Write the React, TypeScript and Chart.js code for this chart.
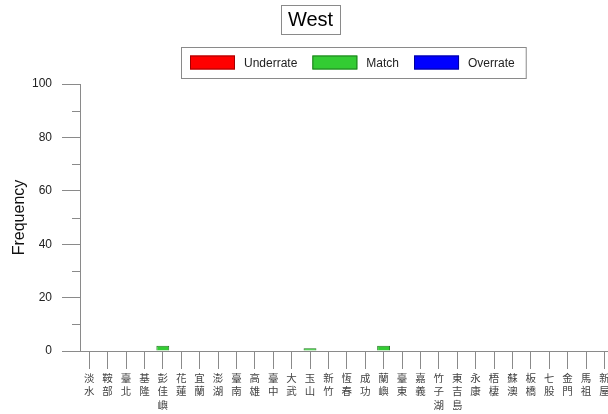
import React, { useEffect, useRef } from "react";
import { Chart, registerables } from "chart.js";

Chart.register(...registerables);

const titleText = "West";
const yAxisTitle = "Frequency";

const stations = [
  "淡水", "鞍部", "臺北", "基隆", "彭佳嶼", "花蓮", "宜蘭", "澎湖", "臺南", "高雄",
  "臺中", "大武", "玉山", "新竹", "恆春", "成功", "蘭嶼", "臺東", "嘉義", "竹子湖",
  "東吉島", "永康", "梧棲", "蘇澳", "板橋", "七股", "金門", "馬祖", "新屋",
];

const underrate = [0, 0, 0, 0, 0, 0, 0, 0, 0, 0, 0, 0, 0, 0, 0, 0, 0, 0, 0, 0, 0, 0, 0, 0, 0, 0, 0, 0, 0];
const match = [0, 0, 0, 0, 2, 0, 0, 0, 0, 0, 0, 0, 1, 0, 0, 0, 2, 0, 0, 0, 0, 0, 0, 0, 0, 0, 0, 0, 0];
const overrate = [0, 0, 0, 0, 0, 0, 0, 0, 0, 0, 0, 0, 0, 0, 0, 0, 0, 0, 0, 0, 0, 0, 0, 0, 0, 0, 0, 0, 0];

const yMin = 0;
const yMax = 100;
const yMajorStep = 20;
const yMinorTicks = [10, 30, 50, 70, 90];

const FONT = "'Liberation Sans', Arial, sans-serif";
const CJK_FONT = "'Noto Sans CJK TC', 'Liberation Sans', sans-serif";
const AXIS_COLOR = "#8a8a8a";

// Title box, framed legend and minor y ticks
const decorPlugin = {
  id: "decor",
  afterDraw(chart: any) {
    const ctx = chart.ctx as CanvasRenderingContext2D;
    ctx.save();

    // title in a frame
    ctx.font = `20px ${FONT}`;
    ctx.textAlign = "center";
    ctx.textBaseline = "middle";
    ctx.fillStyle = "#000";
    const tw = ctx.measureText(titleText).width;
    const tcx = 310.5;
    const tcy = 19.5;
    ctx.fillText(titleText, tcx, tcy + 1);
    ctx.strokeStyle = "#8a8a8a";
    ctx.lineWidth = 1;
    ctx.strokeRect(Math.round(tcx - tw / 2 - 7) + 0.5, 5.5, Math.round(tw + 14), 29);

    // legend in a frame
    ctx.font = `12px ${FONT}`;
    ctx.textAlign = "left";
    const swW = 45;
    const swH = 14;
    const lx0 = 181;
    const ly0 = 47;
    const lh = 31;
    let x = lx0 + 9;
    const cy = ly0 + lh / 2;
    chart.data.datasets.forEach((ds: any, i: number) => {
      ctx.fillStyle = ds.backgroundColor;
      ctx.fillRect(x, cy - swH / 2, swW, swH);
      ctx.strokeStyle = ds.borderColor;
      ctx.lineWidth = 1;
      ctx.strokeRect(x + 0.5, cy - swH / 2 + 0.5, swW - 1, swH - 1);
      x += swW + 9;
      ctx.fillStyle = "#222";
      ctx.fillText(ds.label, x, cy + 1);
      x += ctx.measureText(ds.label).width;
      if (i < chart.data.datasets.length - 1) x += 15;
    });
    const lx1 = x + 11;
    ctx.strokeStyle = "#8a8a8a";
    ctx.strokeRect(lx0 + 0.5, ly0 + 0.5, lx1 - lx0, lh);

    // minor ticks on the y axis
    const ys = chart.scales.y;
    ctx.strokeStyle = AXIS_COLOR;
    ctx.lineWidth = 1;
    yMinorTicks.forEach((v) => {
      const py = Math.round(ys.getPixelForValue(v)) + 0.5;
      ctx.beginPath();
      ctx.moveTo(ys.right - 8, py);
      ctx.lineTo(ys.right, py);
      ctx.stroke();
    });

    ctx.restore();
  },
};

export default function App() {
  const canvasRef = useRef<HTMLCanvasElement | null>(null);

  useEffect(() => {
    if (!canvasRef.current) return;
    const hideZero = (c: any) => (c.raw ? 1 : 0);
    const chart = new Chart(canvasRef.current, {
      type: "bar",
      data: {
        labels: stations.map((s) => s.split("")),
        datasets: [
          { label: "Underrate", data: underrate, backgroundColor: "#ff0000", borderColor: "#a00000", borderWidth: hideZero },
          { label: "Match", data: match, backgroundColor: "#33cc33", borderColor: "#1f7a1f", borderWidth: hideZero },
          { label: "Overrate", data: overrate, backgroundColor: "#0000ff", borderColor: "#000099", borderWidth: hideZero },
        ],
      },
      options: {
        animation: false,
        responsive: false,
        maintainAspectRatio: false,
        layout: { padding: { top: 84, right: 46.4, left: 0, bottom: 0 } },
        plugins: {
          legend: { display: false },
          title: { display: false },
          tooltip: { enabled: false },
        },
        datasets: { bar: { barPercentage: 0.7, categoryPercentage: 1 } },
        scales: {
          x: {
            stacked: true,
            offset: true,
            grid: { offset: false, drawOnChartArea: false, drawTicks: true, tickLength: 18, color: AXIS_COLOR },
            border: { display: true, color: AXIS_COLOR },
            ticks: {
              autoSkip: false,
              maxRotation: 0,
              minRotation: 0,
              padding: 2,
              color: "#444",
              font: { family: CJK_FONT, size: 10.5, lineHeight: 1.3 },
            },
            afterFit: (s: any) => {
              s.height = 79;
            },
          },
          y: {
            stacked: true,
            min: yMin,
            max: yMax,
            grid: { drawOnChartArea: false, drawTicks: true, tickLength: 18, color: AXIS_COLOR },
            border: { display: true, color: AXIS_COLOR },
            ticks: {
              stepSize: yMajorStep,
              padding: 10,
              color: "#222",
              font: { family: FONT, size: 12 },
            },
            title: {
              display: true,
              text: yAxisTitle,
              color: "#111",
              font: { family: FONT, size: 16 },
              padding: { top: 10, bottom: 0 },
            },
            afterFit: (s: any) => {
              s.width = 80;
            },
          },
        },
      },
      plugins: [decorPlugin],
    } as any);
    return () => chart.destroy();
  }, []);

  return (
    <div
      style={{
        position: "fixed",
        left: 0,
        top: 0,
        width: 608,
        height: 414,
        overflow: "hidden",
        background: "#fff",
      }}
    >
      <canvas ref={canvasRef} width={660} height={430} style={{ display: "block" }} />
    </div>
  );
}
